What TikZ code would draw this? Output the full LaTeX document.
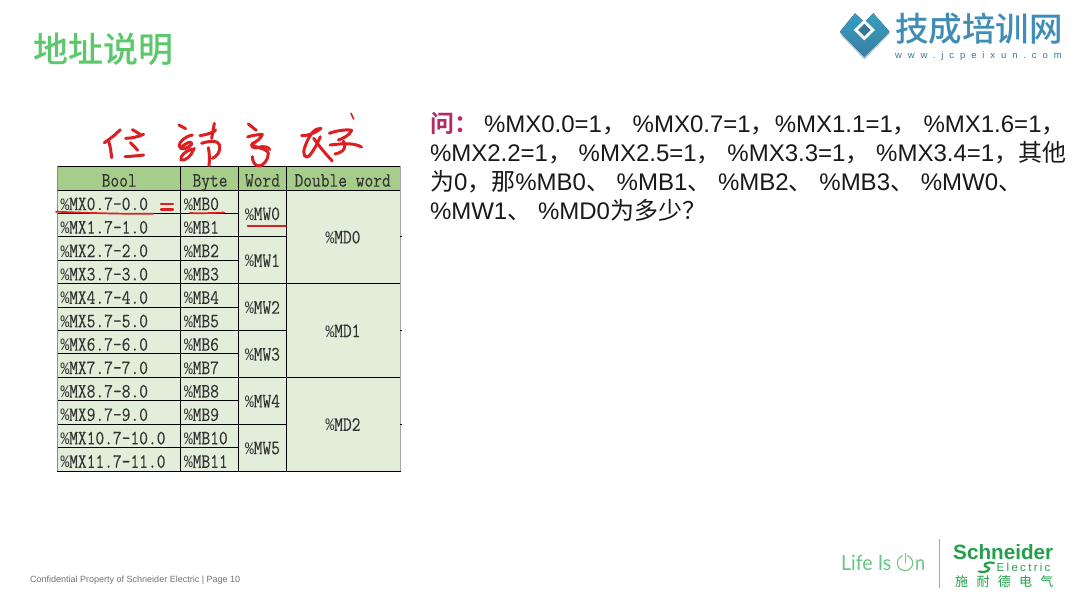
\documentclass[tikz,border=0pt]{standalone}
\usepackage{fontspec}
\usepackage{graphicx}
\setmainfont{Liberation Sans}
\setmonofont[FakeBold=0.12]{Latin Modern Mono}
\newfontfamily\cjk{Noto Sans CJK SC}
\newfontfamily\cjkm{Noto Sans CJK SC Medium}
\newfontfamily\cjkb{Noto Sans CJK SC Bold}
\newfontfamily\lato{Lato}
\newfontfamily\pcf{Liberation Mono}
\newfontfamily\wwwf[LetterSpace=62]{Liberation Sans}
\newfontfamily\elec[LetterSpace=20]{Liberation Sans}
\definecolor{hdr}{HTML}{A6CD89}
\definecolor{body}{HTML}{E2EEDA}
\definecolor{pen}{HTML}{DC1F22}
\definecolor{ttl}{HTML}{5BC86C}
\definecolor{jc}{HTML}{3F8DB5}
\definecolor{se}{HTML}{22A04A}
\definecolor{lio}{HTML}{66C784}
\newcommand{\fs}[1]{\fontsize{#1}{#1}\selectfont}
\newcommand{\qt}[1]{{\cjk #1}}
\newcommand{\tx}[1]{\scalebox{1}[1.2]{#1}}
\newcommand{\pc}{{\pcf\fontsize{14.5}{14.5}\selectfont\%}}
\tikzset{
  tcell/.style={anchor=base west,inner sep=0pt,outer sep=0pt,font=\ttfamily\fs{17},text=black!80},
  qline/.style={anchor=base west,inner sep=0pt,outer sep=0pt,font=\fs{24},text=black!90},
  ink/.style={draw=pen,line width=3pt,line cap=round,line join=round},
  grid/.style={draw=black,line width=0.9pt},
}
\begin{document}
\begin{tikzpicture}[x=1pt,y=-1pt]
\useasboundingbox (0,0) rectangle (1079,607);
\fill[white] (0,0) rectangle (1079,607);
% title
\node[anchor=base west,inner sep=0pt,text=ttl,font=\cjkm\fs{35}] (title) at (33,62.5) {地址说明};
% table fills
\fill[hdr] (57,166) rectangle (400.5,190);
\fill[body] (57,190) rectangle (400.5,471);
% grid
\foreach \k in {0,...,12}{
  \pgfmathsetmacro\yy{190+\k*23.42}
  \draw[grid] (57,\yy) -- (238.5,\yy);
}
\foreach \k in {0,2,...,12}{
  \pgfmathsetmacro\yy{190+\k*23.42}
  \draw[grid] (238.5,\yy) -- (286,\yy);
}
\foreach \k in {0,4,8,12}{
  \pgfmathsetmacro\yy{190+\k*23.42}
  \draw[grid] (286,\yy) -- (400.5,\yy);
}
\draw[grid] (57,166) -- (400.5,166);
\draw[black!45,line width=0.6pt] (57,166) -- (57,471);
\draw[black!35,line width=0.6pt] (400.5,166) -- (400.5,471);
\foreach \yy in {236.84,330.52,424.2}{\draw[black,line width=0.9pt] (400,\yy) -- (402,\yy);}
\foreach \xx in {180.5,238.5,286}{\draw[grid] (\xx,166) -- (\xx,472);}
% header
\node[tcell] (hbool) at (101.7,186.7) {\tx{Bool}};
\node[tcell] (hbyte) at (192.5,186.7) {\tx{Byte}};
\node[tcell] (hword) at (245,186.7) {\tx{Word}};
\node[tcell] (hdw) at (294.5,186.7) {\tx{Double word}};
% rows
\foreach \k in {0,...,11}{
  \pgfmathsetmacro\yy{190+\k*23.42+20.2}
  \node[tcell] (mx\k) at (60.5,\yy) {\tx{\pc MX\k.7-\k.0}};
  \node[tcell] (mb\k) at (184,\yy) {\tx{\pc MB\k}};
}
\foreach \k in {0,...,5}{
  \pgfmathsetmacro\yy{190+\k*46.84+23.42+6.6}
  \node[tcell] (mw\k) at (245,\yy) {\tx{\pc MW\k}};
}
\foreach \k in {0,1,2}{
  \pgfmathsetmacro\yy{190+\k*93.68+46.84+6.6}
  \node[tcell] (md\k) at (325.5,\yy) {\tx{\pc MD\k}};
}
% question
\node[anchor=base west,inner sep=0pt,font=\cjkb\fs{24},text={rgb,255:red,181;green,42;blue,98}] (wen) at (430,132) {问：};
\node[qline] (q1) at (484,132) {\%MX0.0=1\qt{，} \%MX0.7=1\qt{，}\%MX1.1=1\qt{，} \%MX1.6=1\qt{，}};
\node[qline] (q2) at (430,161) {\%MX2.2=1\qt{，} \%MX2.5=1\qt{，} \%MX3.3=1\qt{，} \%MX3.4=1\qt{，其他}};
\node[qline] (q3) at (430,190) {\qt{为}0\qt{，那}\%MB0\qt{、} \%MB1\qt{、} \%MB2\qt{、} \%MB3\qt{、} \%MW0\qt{、}};
\node[qline] (q4) at (430,219) {\%MW1\qt{、} \%MD0\qt{为多少？}};
% red marks in table
\draw[ink,line width=1.7pt] (56,211.7) .. controls (90,213) and (120,214) .. (153,213.8);
\draw[ink,line width=2.2pt] (161,204) -- (173,204) (161,209.5) -- (173,209.5);
\draw[ink,line width=1.7pt] (190,213) .. controls (200,213.5) and (215,213) .. (224,212.5);
\draw[ink,line width=1.7pt] (247.5,226) -- (286,226);
% handwriting: wei, she
\begin{scope}[shift={(95,105)},x=0.3333pt,y=-0.3333pt]
\draw[ink] (76,74) .. controls (60,90) and (45,102) .. (28,113);
\draw[ink] (40,106) .. controls (46,122) and (48,140) .. (50,158);
\draw[ink] (112,74) .. controls (120,78) and (130,84) .. (138,90);
\draw[ink] (92,100) .. controls (110,100) and (130,95) .. (146,88);
\draw[ink] (106,113) .. controls (114,120) and (122,128) .. (128,136);
\draw[ink] (90,155) .. controls (110,154) and (130,152) .. (146,150);
\draw[ink] (252,60) -- (272,71);
\draw[ink] (292,90) .. controls (270,95) and (255,108) .. (252,122) .. controls (255,140) and (280,130) .. (290,118) .. controls (292,105) and (275,112) .. (258,128);
\draw[ink] (290,132) .. controls (270,140) and (255,152) .. (258,165) .. controls (272,170) and (290,150) .. (298,130);
\draw[ink] (315,92) .. controls (340,88) and (360,80) .. (362,75);
\draw[ink] (358,55) .. controls (355,75) and (352,88) .. (350,100);
\draw[ink] (320,115) .. controls (340,108) and (370,105) .. (374,120) .. controls (378,140) and (365,155) .. (352,160);
\draw[ink] (340,128) .. controls (344,145) and (344,165) .. (342,182);
\end{scope}
% handwriting: zi, shu
\begin{scope}[shift={(235,105)},x=0.3333pt,y=-0.3333pt]
\draw[ink] (40,57) -- (64,76);
\draw[ink] (38,96) .. controls (45,92) and (75,88) .. (82,88) .. controls (78,100) and (65,110) .. (52,116) .. controls (45,122) and (55,132) .. (68,128) .. controls (85,122) and (100,125) .. (104,134);
\draw[ink] (52,118) .. controls (60,130) and (95,128) .. (100,145) .. controls (100,165) and (85,182) .. (72,183) .. controls (60,183) and (52,170) .. (52,155);
\draw[ink] (200,92) .. controls (220,92) and (240,85) .. (258,70) .. controls (240,68) and (222,90) .. (210,125) .. controls (200,150) and (212,165) .. (225,150) .. controls (240,130) and (250,110) .. (256,95);
\draw[ink] (236,100) .. controls (250,120) and (270,145) .. (292,168);
\draw[ink] (283,85) .. controls (300,78) and (335,72) .. (350,76) .. controls (345,90) and (325,100) .. (310,105);
\draw[ink] (285,120) .. controls (310,118) and (350,110) .. (380,126);
\draw[ink] (325,108) .. controls (335,125) and (330,140) .. (300,147);
\draw[ink,line width=1.6pt] (348,25) -- (356,42);
\end{scope}
% logo mark
\begin{scope}[shift={(830,5)},x=0.3333pt,y=-0.3333pt]
\fill[jc!55!white] (103,156) -- (30,80) -- (33,90) -- (103,163) -- (178,86) -- (178,80) -- cycle;
\fill[top color=jc!85!cyan,bottom color=jc!90!black] (30,80) -- (75,25) -- (103,52) -- (130,25) -- (178,80) -- (103,155) -- cycle;
\fill[white] (103,44) -- (135,75) -- (103,106) -- (71,75) -- cycle;
\fill[jc!85!black] (103,56) -- (122,75) -- (103,94) -- (84,75) -- cycle;
\end{scope}
\node[anchor=base west,inner sep=0pt,font=\cjkm\fs{33.5},text=jc] (jcname) at (895,42) {技成培训网};
\node[anchor=base west,inner sep=0pt,font=\wwwf\fs{9.5},text=jc!85!black] (jcurl) at (895,58.5) {www.jcpeixun.com};
% footer
\node[anchor=base west,inner sep=0pt,font=\fs{9},text=black!55] (foot) at (30,582) {Confidential Property of Schneider Electric | Page 10};
% Life Is On
\node[anchor=base west,inner sep=0pt,font=\lato\fs{21},text=lio] (life) at (841,570.5) {\scalebox{0.93}[1]{Life Is}};
\node[anchor=base west,inner sep=0pt,font=\lato\fs{21},text=lio] (lifen) at (915,570.5) {\scalebox{0.86}[1]{n}};
\draw[lio,line width=1pt] (905,563) circle[radius=7.7];
\draw[white,line width=4pt] (905,553) -- (905,557);
\draw[lio,line width=1pt] (905,553) -- (905,563);
\draw[black!35,line width=0.7pt] (939.5,539) -- (939.5,588);
% Schneider
\node[anchor=base west,inner sep=0pt,font=\bfseries\fs{20.7},text=se] (sch) at (953,559.5) {Schneider};
\node[anchor=base west,inner sep=0pt,font=\elec\fs{11.5},text=se] (el) at (996.5,571.5) {Electric};
\draw[se,line width=2.2pt,line cap=round] (994,563) .. controls (985,561) and (982,566) .. (987,567) .. controls (992,568) and (988,573.5) .. (979,571.5);
\node[anchor=base west,inner sep=0pt,font=\cjk\fs{13},text=se] (shi) at (955,586.5) {施\hspace{8.3pt}耐\hspace{8.3pt}德\hspace{8.3pt}电\hspace{8.3pt}气};
\end{tikzpicture}
\end{document}
